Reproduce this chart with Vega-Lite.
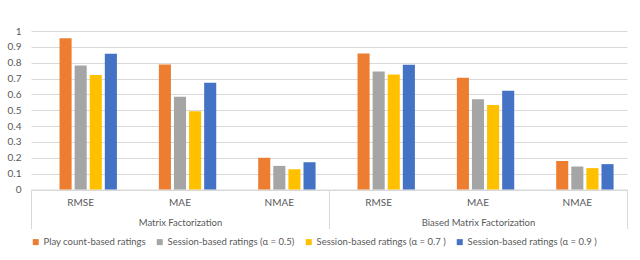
{
  "$schema": "https://vega.github.io/schema/vega-lite/v6.json",
  "autosize": {"type": "none"},
  "width": 596,
  "height": 158.5,
  "padding": {"left": 31, "top": 31, "right": 13, "bottom": 70.5},
  "background": "white",
  "config": {
    "font": "Lato",
    "view": {"stroke": null},
    "axis": {"labelColor": "#595959", "labelFont": "Lato", "labelFontSize": 10},
    "legend": {"labelColor": "#595959", "labelFont": "Lato", "labelFontSize": 9.5}
  },
  "data": {
    "values": [
      {"group": "Matrix Factorization", "metric": "RMSE", "key": "Matrix Factorization|RMSE", "series": "Play count-based ratings", "value": 0.955},
      {"group": "Matrix Factorization", "metric": "RMSE", "key": "Matrix Factorization|RMSE", "series": "Session-based ratings (α = 0.5)", "value": 0.783},
      {"group": "Matrix Factorization", "metric": "RMSE", "key": "Matrix Factorization|RMSE", "series": "Session-based ratings (α = 0.7 )", "value": 0.723},
      {"group": "Matrix Factorization", "metric": "RMSE", "key": "Matrix Factorization|RMSE", "series": "Session-based ratings (α = 0.9 )", "value": 0.857},
      {"group": "Matrix Factorization", "metric": "MAE", "key": "Matrix Factorization|MAE", "series": "Play count-based ratings", "value": 0.789},
      {"group": "Matrix Factorization", "metric": "MAE", "key": "Matrix Factorization|MAE", "series": "Session-based ratings (α = 0.5)", "value": 0.585},
      {"group": "Matrix Factorization", "metric": "MAE", "key": "Matrix Factorization|MAE", "series": "Session-based ratings (α = 0.7 )", "value": 0.493},
      {"group": "Matrix Factorization", "metric": "MAE", "key": "Matrix Factorization|MAE", "series": "Session-based ratings (α = 0.9 )", "value": 0.673},
      {"group": "Matrix Factorization", "metric": "NMAE", "key": "Matrix Factorization|NMAE", "series": "Play count-based ratings", "value": 0.2},
      {"group": "Matrix Factorization", "metric": "NMAE", "key": "Matrix Factorization|NMAE", "series": "Session-based ratings (α = 0.5)", "value": 0.149},
      {"group": "Matrix Factorization", "metric": "NMAE", "key": "Matrix Factorization|NMAE", "series": "Session-based ratings (α = 0.7 )", "value": 0.128},
      {"group": "Matrix Factorization", "metric": "NMAE", "key": "Matrix Factorization|NMAE", "series": "Session-based ratings (α = 0.9 )", "value": 0.172},
      {"group": "Biased Matrix Factorization", "metric": "RMSE", "key": "Biased Matrix Factorization|RMSE", "series": "Play count-based ratings", "value": 0.858},
      {"group": "Biased Matrix Factorization", "metric": "RMSE", "key": "Biased Matrix Factorization|RMSE", "series": "Session-based ratings (α = 0.5)", "value": 0.745},
      {"group": "Biased Matrix Factorization", "metric": "RMSE", "key": "Biased Matrix Factorization|RMSE", "series": "Session-based ratings (α = 0.7 )", "value": 0.726},
      {"group": "Biased Matrix Factorization", "metric": "RMSE", "key": "Biased Matrix Factorization|RMSE", "series": "Session-based ratings (α = 0.9 )", "value": 0.787},
      {"group": "Biased Matrix Factorization", "metric": "MAE", "key": "Biased Matrix Factorization|MAE", "series": "Play count-based ratings", "value": 0.705},
      {"group": "Biased Matrix Factorization", "metric": "MAE", "key": "Biased Matrix Factorization|MAE", "series": "Session-based ratings (α = 0.5)", "value": 0.569},
      {"group": "Biased Matrix Factorization", "metric": "MAE", "key": "Biased Matrix Factorization|MAE", "series": "Session-based ratings (α = 0.7 )", "value": 0.533},
      {"group": "Biased Matrix Factorization", "metric": "MAE", "key": "Biased Matrix Factorization|MAE", "series": "Session-based ratings (α = 0.9 )", "value": 0.623},
      {"group": "Biased Matrix Factorization", "metric": "NMAE", "key": "Biased Matrix Factorization|NMAE", "series": "Play count-based ratings", "value": 0.18},
      {"group": "Biased Matrix Factorization", "metric": "NMAE", "key": "Biased Matrix Factorization|NMAE", "series": "Session-based ratings (α = 0.5)", "value": 0.145},
      {"group": "Biased Matrix Factorization", "metric": "NMAE", "key": "Biased Matrix Factorization|NMAE", "series": "Session-based ratings (α = 0.7 )", "value": 0.135},
      {"group": "Biased Matrix Factorization", "metric": "NMAE", "key": "Biased Matrix Factorization|NMAE", "series": "Session-based ratings (α = 0.9 )", "value": 0.16}
    ]
  },
  "encoding": {
    "y": {
      "field": "value",
      "type": "quantitative",
      "scale": {"domain": [0, 1], "nice": false},
      "axis": {
        "title": null,
        "values": [0, 0.1, 0.2, 0.3, 0.4, 0.5, 0.6, 0.7, 0.8, 0.9, 1],
        "format": "~g",
        "domain": false,
        "ticks": false,
        "labelPadding": 10,
        "labelOverlap": false,
        "gridColor": "#d9d9d9"
      }
    }
  },
  "layer": [
    {
      "mark": {"type": "bar"},
      "encoding": {
        "x": {
          "field": "key",
          "type": "nominal",
          "sort": ["Matrix Factorization|RMSE", "Matrix Factorization|MAE", "Matrix Factorization|NMAE", "Biased Matrix Factorization|RMSE", "Biased Matrix Factorization|MAE", "Biased Matrix Factorization|NMAE"],
          "scale": {"paddingInner": 0.24, "paddingOuter": 0.12},
          "axis": {
            "title": null,
            "orient": "bottom",
            "labelAngle": 0,
            "labelExpr": "split(datum.label, '|')[1]",
            "ticks": false,
            "labelPadding": 8,
            "domain": true,
            "domainColor": "#d9d9d9",
            "grid": false
          }
        },
        "xOffset": {
          "field": "series",
          "type": "nominal",
          "scale": {
            "domain": [" ", "Play count-based ratings", "Session-based ratings (α = 0.5)", "Session-based ratings (α = 0.7 )", "Session-based ratings (α = 0.9 )"],
            "paddingInner": 0.2,
            "paddingOuter": 0.1
          }
        },
        "color": {
          "field": "series",
          "type": "nominal",
          "scale": {
            "domain": ["Play count-based ratings", "Session-based ratings (α = 0.5)", "Session-based ratings (α = 0.7 )", "Session-based ratings (α = 0.9 )"],
            "range": ["#ED7D31", "#A5A5A5", "#FFC000", "#4472C4"]
          },
          "legend": {
            "title": null,
            "orient": "bottom",
            "direction": "horizontal",
            "symbolType": "square",
            "symbolSize": 36,
            "symbolStrokeWidth": 0,
            "labelOffset": 3,
            "columnPadding": 9,
            "offset": 8
          }
        }
      }
    },
    {
      "mark": {"type": "bar", "opacity": 0},
      "encoding": {
        "x": {
          "field": "group",
          "type": "nominal",
          "sort": ["Matrix Factorization", "Biased Matrix Factorization"],
          "scale": {"paddingInner": 0, "paddingOuter": 0},
          "axis": {
            "title": null,
            "orient": "bottom",
            "labelAngle": 0,
            "labelFontSize": 9.5,
            "domain": false,
            "grid": false,
            "tickBand": "extent",
            "tickSize": 39,
            "tickColor": "#d9d9d9",
            "labelPadding": -11
          }
        }
      }
    }
  ],
  "resolve": {"scale": {"x": "independent"}}
}
